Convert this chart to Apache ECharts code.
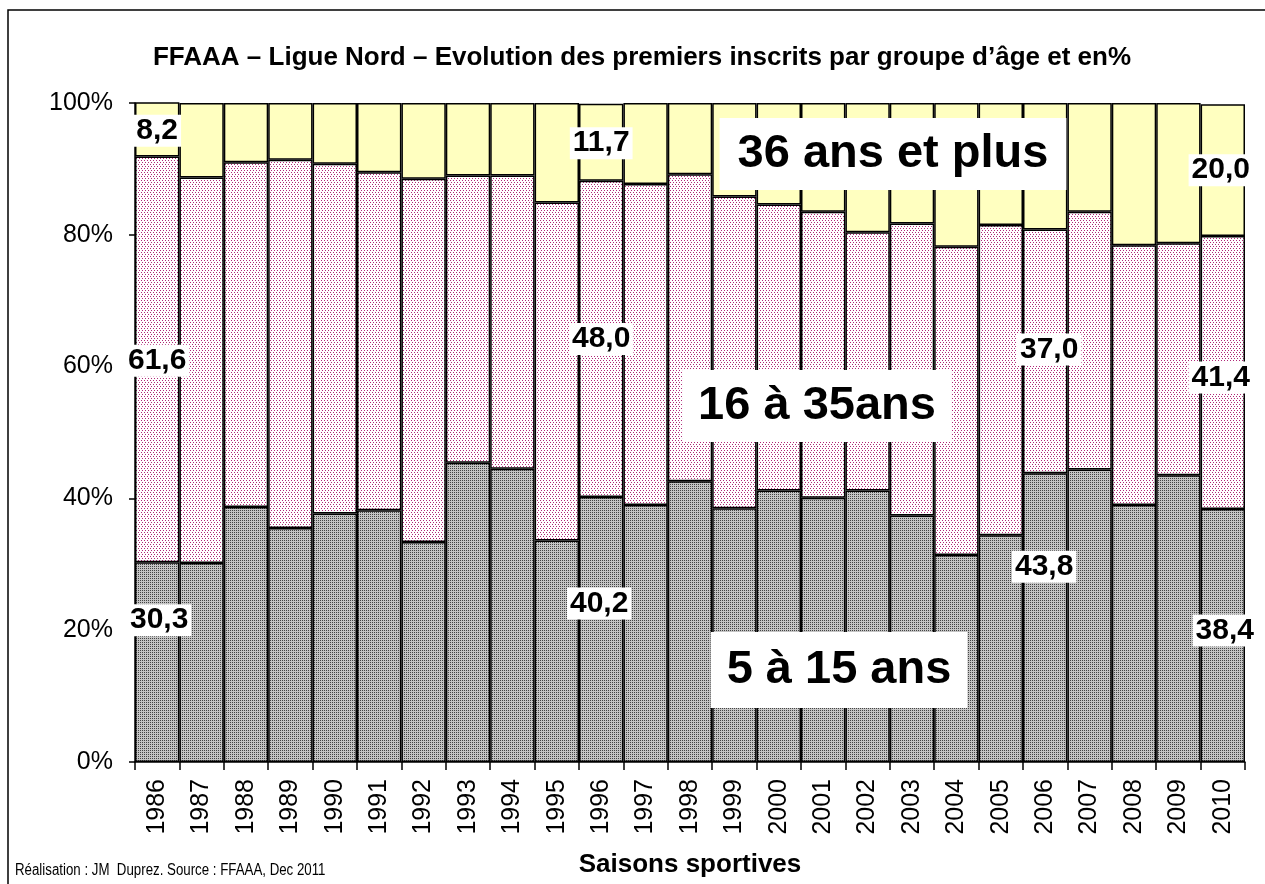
<!DOCTYPE html>
<html>
<head>
<meta charset="utf-8">
<script src="https://cdn.jsdelivr.net/npm/echarts@6/dist/echarts.min.js"></script>
<style>
html,body{margin:0;padding:0;background:#fff;}
#chart{width:1265px;height:884px;}
</style>
</head>
<body>
<div id="chart"></div>
<script>
const years = ['1986','1987','1988','1989','1990','1991','1992','1993','1994','1995','1996','1997','1998','1999','2000','2001','2002','2003','2004','2005','2006','2007','2008','2009','2010'];
const young = [30.3,30.2,38.7,35.5,37.7,38.2,33.4,45.4,44.5,33.6,40.2,39.0,42.6,38.5,41.2,40.1,41.2,37.4,31.4,34.4,43.8,44.4,39.0,43.5,38.4];
const adult = [61.6,58.5,52.3,55.9,53.1,51.3,55.1,43.6,44.5,51.3,48.0,48.7,46.6,47.3,43.4,43.4,39.2,44.3,46.8,47.1,37.0,39.1,39.4,35.2,41.4];
const senior = [8.2,11.3,9.0,8.6,9.2,10.5,11.5,11.0,11.0,15.1,11.7,12.3,10.8,14.2,15.4,16.5,19.6,18.3,21.8,18.5,19.2,16.5,21.6,21.3,20.0];
const yTicks = [0,20,40,60,80,100];

// which bars carry value labels, and label nudges (style only)
const youngLabelOffsets = {0:[2,-42], 10:[-2,-26], 20:[-1,-51], 24:[2,-5]};
const adultLabelOffsets = {0:[0,1.5], 10:[0,0], 20:[4,-2], 24:[-2,5]};
const seniorLabelOffsets = {0:[0,1.5], 10:[0,1], 24:[-2,0]};

const FONT = '"Liberation Sans", Arial, sans-serif';

function makePattern(w, h, bg, dots, dotColor) {
  const c = document.createElement('canvas');
  c.width = w; c.height = h;
  const ctx = c.getContext('2d');
  ctx.fillStyle = bg; ctx.fillRect(0,0,w,h);
  ctx.fillStyle = dotColor;
  dots.forEach(d => ctx.fillRect(d[0], d[1], d[2] || 1, d[3] || 1));
  return {image: c, repeat: 'repeat'};
}
const greyPattern = makePattern(2, 2, '#c4c4c4', [[0,0]], '#444444');
const pinkPattern = makePattern(6, 4, '#ffffff', [[0,0],[3,0],[1,2],[4,2]], '#b02878');

function fmt(v){ return v.toFixed(1).replace('.', ','); }

function buildData(values, offsets) {
  return values.map((v, i) => {
    if (offsets[i]) {
      return {value: v, label: {show: true, offset: offsets[i]}};
    }
    return {value: v};
  });
}

const labelStyle = {
  show: false,
  position: 'inside',
  formatter: p => fmt(p.value),
  color: '#000',
  fontFamily: FONT,
  fontWeight: 'bold',
  fontSize: 30,
  backgroundColor: '#fff',
  padding: [2, 3, 0, 3]
};

const chart = echarts.init(document.getElementById('chart'));
const option = {
  animation: false,
  backgroundColor: '#fff',
  grid: {left: 135, right: 20, top: 103, bottom: 122, containLabel: false},
  xAxis: {
    type: 'category',
    data: years,
    axisLine: {lineStyle: {color: '#000', width: 1.5}},
    axisTick: {show: true, length: 8, lineStyle: {color: '#000', width: 1.5}},
    axisLabel: {rotate: 90, margin: 17, fontSize: 25, color: '#000', fontFamily: FONT, interval: 0},
    splitLine: {show: false}
  },
  yAxis: {
    type: 'value',
    min: 0, max: 100, interval: 20,
    axisLine: {show: true, lineStyle: {color: '#000', width: 1.5}},
    axisTick: {show: true, length: 6, lineStyle: {color: '#000', width: 1.5}},
    axisLabel: {margin: 22, fontSize: 25, color: '#000', fontFamily: FONT, formatter: v => v + '%'},
    splitLine: {show: false}
  },
  series: [
    {
      name: '5 à 15 ans', type: 'bar', stack: 'age', barCategoryGap: 0,
      itemStyle: {color: greyPattern, borderColor: '#000', borderWidth: 1.5},
      label: labelStyle,
      data: buildData(young, youngLabelOffsets)
    },
    {
      name: '16 à 35ans', type: 'bar', stack: 'age', barCategoryGap: 0,
      itemStyle: {color: pinkPattern, borderColor: '#000', borderWidth: 1.5},
      label: labelStyle,
      data: buildData(adult, adultLabelOffsets)
    },
    {
      name: '36 ans et plus', type: 'bar', stack: 'age', barCategoryGap: 0,
      itemStyle: {color: '#ffffc0', borderColor: '#000', borderWidth: 1.5},
      label: labelStyle,
      data: buildData(senior, seniorLabelOffsets)
    }
  ],
  graphic: [
    {type: 'rect', silent: true, z: -10, shape: {x: 8, y: 10, width: 1300, height: 900},
     style: {fill: 'none', stroke: '#000', lineWidth: 1.5}},
    {type: 'text', x: 642, y: 58, z: 100,
     style: {text: 'FFAAA – Ligue Nord – Evolution des premiers inscrits par groupe d\u2019âge et en%',
             font: 'bold 26px ' + FONT, fill: '#000', align: 'center', verticalAlign: 'middle'}},
    {type: 'text', x: 690, y: 865, z: 100,
     style: {text: 'Saisons sportives', font: 'bold 26px ' + FONT, fill: '#000', align: 'center', verticalAlign: 'middle'}},
    {type: 'text', x: 15, y: 871, scaleX: 0.83, z: 100,
     style: {text: 'Réalisation : JM  Duprez. Source : FFAAA, Dec 2011', font: '16px ' + FONT, fill: '#000', align: 'left', verticalAlign: 'middle'}},
    {type: 'text', x: 893, y: 154, z: 100,
     style: {text: '36 ans et plus', font: 'bold 47px ' + FONT, fill: '#000', align: 'center', verticalAlign: 'middle',
             backgroundColor: '#fff', padding: [12, 18, 12, 18], lineHeight: 48}},
    {type: 'text', x: 817, y: 406, z: 100,
     style: {text: '16 à 35ans', font: 'bold 47px ' + FONT, fill: '#000', align: 'center', verticalAlign: 'middle',
             backgroundColor: '#fff', padding: [12, 16, 12, 16], lineHeight: 48}},
    {type: 'text', x: 839, y: 670, z: 100,
     style: {text: '5 à 15 ans', font: 'bold 47px ' + FONT, fill: '#000', align: 'center', verticalAlign: 'middle',
             backgroundColor: '#fff', padding: [14, 16, 14, 16], lineHeight: 48}}
  ]
};
chart.setOption(option);
</script>
</body>
</html>
